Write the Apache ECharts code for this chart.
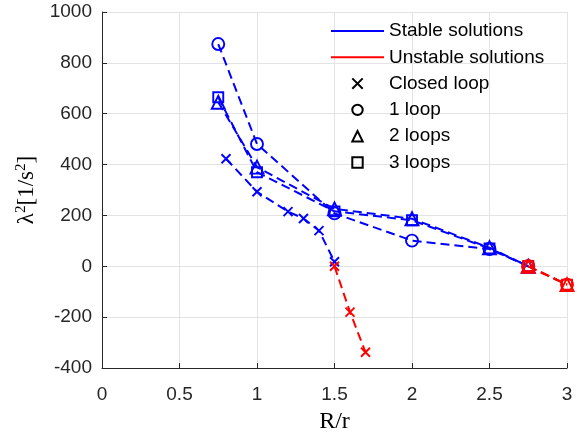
<!DOCTYPE html>
<html>
<head>
<meta charset="utf-8">
<script src="https://cdn.jsdelivr.net/npm/echarts@6/dist/echarts.min.js"></script>
<style>html,body{margin:0;padding:0;background:#fff;}#c{width:577px;height:439px;}</style>
</head>
<body>
<div id="c"></div>
<script>
// ---- data ----
const closedR = [0.8, 1.0, 1.2, 1.3, 1.4, 1.5];
const closedStable = [423, 293, 215, 188, 140, 18];
const closedUnstR = [1.5, 1.6, 1.7];
const closedUnstable = [0, -180, -338];

const loopR = [0.75, 1.0, 1.5, 2.0, 2.5, 2.75];
const loop1Stable = [874, 481, 208, 101, 68, 0];
const loop2Stable = [645, 390, 226, 187, 73, 0];
const loop3Stable = [665, 370, 216, 181, 70, 0];
const loopUnstR = [2.75, 3.0];
const loop1Unstable = [0, -72];
const loop2Unstable = [0, -72];
const loop3Unstable = [0, -72];

const legendLines = ['Stable solutions', 'Unstable solutions'];
const legendMarkers = ['Closed loop', '1 loop', '2 loops', '3 loops'];

const xMin = 0, xMax = 3, xStep = 0.5;
const yMin = -400, yMax = 1000, yStep = 200;

// ---- styles ----
const BLUE = '#0000ff', RED = '#ff0000';
const XSYM = 'path://M0,0L10,10M10,0L0,10';
const symbols = {closed: XSYM, l1: 'circle', l2: 'triangle', l3: 'rect'};
const sizes = {closed: 9, l1: 12, l2: 13, l3: 10};
const LINE_ICON = 'path://M0,0H100V3.6H0Z';

function zip(xs, ys) { return xs.map((x, i) => [x, ys[i]]); }
function dataSeries(xs, ys, color, sym, size) {
  return {
    type: 'line', data: zip(xs, ys), symbol: sym, symbolSize: size,
    showAllSymbol: true,
    itemStyle: {color: 'rgba(0,0,0,0)', borderColor: color, borderWidth: 1.9},
    lineStyle: {color: color, width: 2, type: [9, 5]},
    emphasis: {disabled: true}, animation: false
  };
}
function legendSeries(name, color, sym, showLine) {
  return {
    type: 'line', name: name, data: [], symbol: sym,
    itemStyle: showLine ? {color: color} : {color: 'rgba(0,0,0,0)', borderColor: color, borderWidth: 1.6},
    lineStyle: {color: showLine ? color : 'rgba(0,0,0,0)', width: showLine ? 2 : 0.001, type: 'solid'}
  };
}

const series = [
  dataSeries(closedR, closedStable, BLUE, symbols.closed, sizes.closed),
  dataSeries(loopR, loop1Stable, BLUE, symbols.l1, sizes.l1),
  dataSeries(loopR, loop2Stable, BLUE, symbols.l2, sizes.l2),
  dataSeries(loopR, loop3Stable, BLUE, symbols.l3, sizes.l3),
  dataSeries(closedUnstR, closedUnstable, RED, symbols.closed, sizes.closed),
  dataSeries(loopUnstR, loop1Unstable, RED, symbols.l1, sizes.l1),
  dataSeries(loopUnstR, loop2Unstable, RED, symbols.l2, sizes.l2),
  dataSeries(loopUnstR, loop3Unstable, RED, symbols.l3, sizes.l3),
  legendSeries(legendLines[0], BLUE, 'none', true),
  legendSeries(legendLines[1], RED, 'none', true),
  legendSeries(legendMarkers[0], '#000', symbols.closed, false),
  legendSeries(legendMarkers[1], '#000', symbols.l1, false),
  legendSeries(legendMarkers[2], '#000', symbols.l2, false),
  legendSeries(legendMarkers[3], '#000', symbols.l3, false)
];

const AX = '#262626';
const FONT = 'Liberation Sans, Arial, sans-serif';
const SERIF = 'Liberation Serif, DejaVu Serif, serif';

const legendData = legendLines.map(n => ({name: n, icon: LINE_ICON}))
  .concat(legendMarkers.map(n => ({name: n})));

const chart = echarts.init(document.getElementById('c'), null, {renderer: 'canvas'});
chart.setOption({
  animation: false,
  backgroundColor: '#fff',
  grid: {left: 102, right: 10, top: 12, bottom: 70, containLabel: false},
  legend: {
    data: legendData,
    orient: 'vertical', left: 330, top: 21, padding: 0,
    itemWidth: 53, itemHeight: 13, itemGap: 6.3,
    selectedMode: false,
    textStyle: {fontFamily: FONT, fontSize: 19, color: '#000', lineHeight: 20}
  },
  xAxis: {
    type: 'value', min: xMin, max: xMax, interval: xStep,
    name: 'R/r', nameLocation: 'middle', nameGap: 42,
    nameTextStyle: {fontFamily: SERIF, fontSize: 24, color: '#000'},
    axisLine: {onZero: false, lineStyle: {color: AX, width: 1}},
    axisTick: {inside: true, length: 5, lineStyle: {color: AX}},
    axisLabel: {fontFamily: FONT, fontSize: 19, color: '#262626', margin: 17},
    splitLine: {show: true, lineStyle: {color: '#e3e3e3', width: 1}}
  },
  yAxis: {
    type: 'value', min: yMin, max: yMax, interval: yStep,
    name: '{n|λ}{s|2}{n|[1/s}{s|2}{n|]}', nameLocation: 'middle', nameGap: 63, nameRotate: 90,
    nameTextStyle: {
      color: '#000',
      rich: {
        n: {fontFamily: SERIF, fontSize: 23, color: '#000'},
        s: {fontFamily: SERIF, fontSize: 15, color: '#000', padding: [0, 0, 10, 0]}
      }
    },
    axisLine: {show: true, onZero: false, lineStyle: {color: AX, width: 1}},
    axisTick: {show: true, inside: true, length: 5, lineStyle: {color: AX}},
    axisLabel: {fontFamily: FONT, fontSize: 19, color: '#262626', margin: 10,
      formatter: v => String(v)},
    splitLine: {show: true, lineStyle: {color: '#e3e3e3', width: 1}}
  },
  series: series
});
</script>
</body>
</html>
